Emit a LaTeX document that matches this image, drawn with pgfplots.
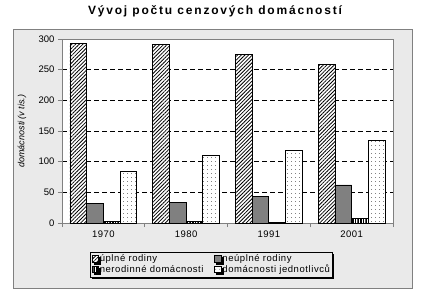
\documentclass[border=0pt]{standalone}
\usepackage{fontspec}
\setmainfont{Liberation Sans}
\usepackage{pgfplots}
\pgfplotsset{compat=1.18}
\usetikzlibrary{patterns.meta,shadows}
\definecolor{bggray}{HTML}{EAEAEA}
\definecolor{axgray}{HTML}{808080}
\begin{document}
\begin{tikzpicture}
\path[use as bounding box] (0pt,0pt) rectangle (428pt,300pt);
\fill[bggray, draw=axgray, line width=0.8pt] (13.5pt,11.5pt) rectangle (412.5pt,270.5pt);
\node[font=\fontsize{12}{14}\selectfont\bfseries\addfontfeatures{LetterSpace=15}] at (215pt,288.5pt) {Vývoj počtu cenzových domácností};
\begin{axis}[
  at={(62pt,77pt)}, anchor=south west,
  scale only axis, width=331pt, height=184pt,
  xmin=-0.5, xmax=3.5, ymin=0, ymax=300,
  ybar=0pt, bar width=16.7pt,
  xtick={0,1,2,3}, xticklabels={1970,1980,1991,2001},
  major x tick style={draw=none},
  minor xtick={-0.5,0.5,1.5,2.5,3.5},
  ytick={0,50,...,300},
  tick align=outside, tick pos=left,
  major tick length=4pt, minor tick length=4pt,
  axis line style={axgray, line width=0.8pt},
  tick style={axgray, line width=0.8pt},
  ymajorgrids, grid style={black, line width=0.6pt, dash pattern=on 5pt off 3pt},
  axis background/.style={fill=white},
  ticklabel style={font=\fontsize{9.5}{11}\selectfont},
  xticklabel style={font=\fontsize{9.5}{11}\selectfont\addfontfeatures{LetterSpace=5}},
  /pgf/number format/assume math mode=true,
  ylabel={domácnosti (v tis.)},
  ylabel style={font=\fontsize{9}{10}\selectfont\itshape, at={(axis description cs:-0.1208,0.5)}, anchor=center},
  legend columns=2,
  legend cell align=left,
  legend style={at={(0.0846,-0.1576)}, anchor=north west, fill=bggray, draw=black,
    font=\fontsize{9.5}{10}\selectfont\addfontfeatures{LetterSpace=6},
    inner xsep=1.5pt, inner ysep=1.5pt,
    nodes={inner xsep=0.8pt, inner ysep=1pt},
    general shadow={shadow xshift=2pt, shadow yshift=-2pt, fill=black},
    /tikz/every even column/.append style={column sep=10pt}},
  mylegend/.style={legend image code/.code={
      \fill[white] (0pt,-3pt) rectangle (6.5pt,3.5pt);
      \draw[##1, draw=black, line width=0.6pt] (0pt,-3pt) rectangle (6.5pt,3.5pt);}},
]
\addplot[draw=black, line width=0.8pt, preaction={fill=white}, pattern={Lines[angle=45,distance=2.6pt,line width=0.8pt]}, pattern color=black, mylegend]
  coordinates {(0,293) (1,291) (2,275) (3,259)};
\addplot[draw=black, line width=0.8pt, fill=axgray, mylegend]
  coordinates {(0,32) (1,34) (2,44) (3,62)};
\addplot[draw=black, line width=0.8pt, preaction={fill=white}, pattern={Lines[angle=90,distance=1.6pt,line width=0.6pt]}, pattern color=black, mylegend]
  coordinates {(0,2) (1,3) (2,1) (3,8)};
\addplot[draw=black, line width=0.8pt, preaction={fill=white}, pattern={Dots[distance=4pt,radius=0.45pt]}, pattern color=black, mylegend]
  coordinates {(0,84) (1,110) (2,119) (3,134)};
\legend{úplné rodiny, neúplné rodiny, nerodinné domácnosti, domácnosti jednotlivců}
\end{axis}
\end{tikzpicture}
\end{document}
